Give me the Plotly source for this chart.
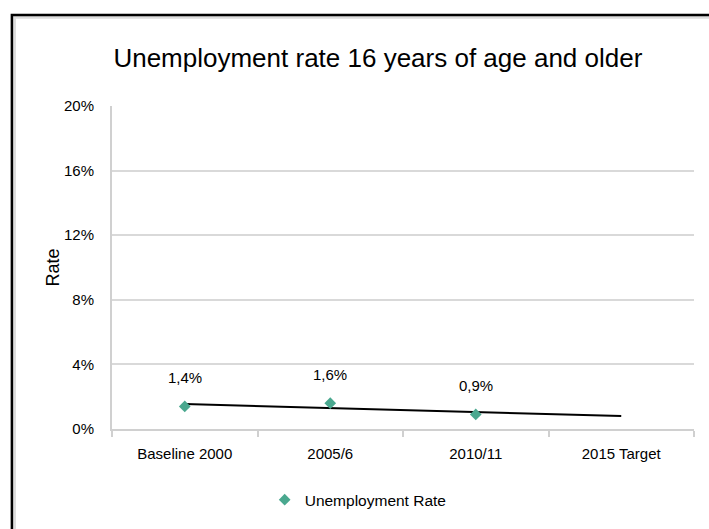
import numpy as np
import plotly.graph_objects as go

categories = ["Baseline 2000", "2005/6", "2010/11", "2015 Target"]
rate_values = [0.014, 0.016, 0.009]
series_name = "Unemployment Rate"
title_text = "Unemployment rate 16 years of age and older"
y_title = "Rate"
y_ticks = [0, 0.04, 0.08, 0.12, 0.16, 0.20]

FONT = "Liberation Sans, Arial, sans-serif"
MARKER = "#4aa88f"

# linear trendline over observed points, extended one period forward
xi = np.arange(1, len(rate_values) + 1)
slope, intercept = np.polyfit(xi, rate_values, 1)
trend_x = np.arange(1, len(categories) + 1)
trend_y = slope * trend_x + intercept

fig = go.Figure()
fig.add_trace(go.Scatter(
    x=categories, y=trend_y, mode="lines",
    line=dict(color="black", width=2), showlegend=False, hoverinfo="skip"))
fig.add_trace(go.Scatter(
    x=categories[:len(rate_values)], y=rate_values, mode="markers",
    name=series_name,
    marker=dict(symbol="diamond", size=9, color=MARKER)))

for c, v in zip(categories, rate_values):
    fig.add_annotation(x=c, y=v, text=f"{v*100:.1f}%".replace(".", ","),
                       showarrow=False, yshift=29,
                       font=dict(family=FONT, size=15, color="black"))

# y-axis title
fig.add_annotation(xref="paper", yref="paper", x=-0.103, y=0.50,
                   text=y_title, textangle=-90, showarrow=False,
                   xanchor="center", yanchor="middle",
                   font=dict(family=FONT, size=18, color="black"))

# outer frame (left/top visible)
fig.add_shape(type="rect", xref="paper", yref="paper",
              x0=-0.1675, x1=1.2, y0=-0.6, y1=1.275,
              line=dict(color="#dddddd", width=3), layer="below")
fig.add_shape(type="rect", xref="paper", yref="paper",
              x0=-0.172, x1=1.2, y0=-0.6, y1=1.282,
              line=dict(color="black", width=2.5), layer="below")

fig.update_layout(
    width=709, height=529,
    margin=dict(l=112, r=15, t=106, b=100),
    paper_bgcolor="white", plot_bgcolor="white",
    separators=",.",
    title=dict(text=title_text, x=0.533, xanchor="center", y=0.89, yanchor="middle",
               font=dict(family=FONT, size=26, color="black")),
    font=dict(family=FONT, size=15, color="black"),
    legend=dict(orientation="h", x=0.423, xanchor="center", y=-0.22, yanchor="middle",
                font=dict(family=FONT, size=15.5), itemwidth=30),
    xaxis=dict(type="category", categoryorder="array", categoryarray=categories,
               range=[-0.5, len(categories) - 0.5],
               showline=True, linecolor="#d0d0d0", linewidth=2,
               ticks="outside", tickson="boundaries", ticklen=6, tickcolor="#d0d0d0",
               tickwidth=2, showgrid=False, ticklabelstandoff=10,
               tickfont=dict(family=FONT, size=15)),
    yaxis=dict(range=[0, 0.20], tickvals=y_ticks, tickformat=".0%",
               showline=True, linecolor="#d0d0d0", linewidth=2,
               showgrid=True, gridcolor="#d9d9d9", gridwidth=2,
               zeroline=False, ticks="", ticklabelstandoff=13,
               tickfont=dict(family=FONT, size=15)),
)

fig.write_html("out.html")
